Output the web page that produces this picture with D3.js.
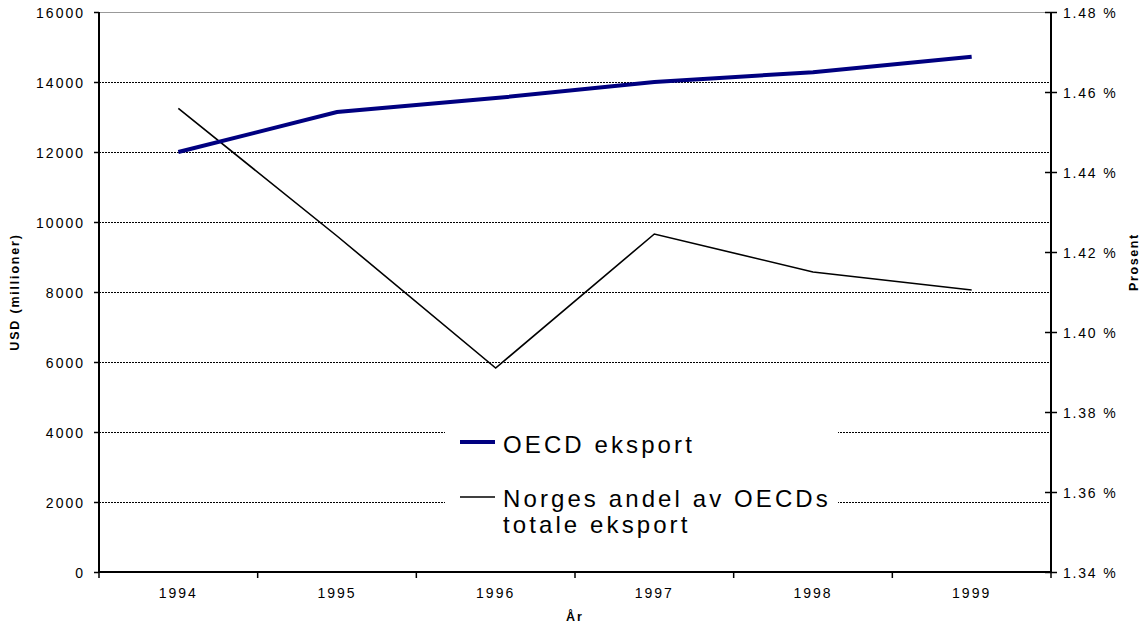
<!DOCTYPE html>
<html>
<head>
<meta charset="utf-8">
<script src="https://cdn.jsdelivr.net/npm/d3@7"></script>
<style>
  html, body { margin: 0; padding: 0; background: #fff; }
  svg { display: block; font-family: "Liberation Sans", Arial, sans-serif; }
</style>
</head>
<body>
<svg id="chart" width="1143" height="627"></svg>
<script>
const years = ["1994", "1995", "1996", "1997", "1998", "1999"];
const oecdExport = [12000, 13140, 13540, 14000, 14280, 14720];
const norwayShare = [1.4559, 1.4240, 1.3910, 1.4245, 1.4150, 1.4105];
const leftTicks = [0, 2000, 4000, 6000, 8000, 10000, 12000, 14000, 16000];
const rightTicks = [1.34, 1.36, 1.38, 1.40, 1.42, 1.44, 1.46, 1.48];
const seriesNames = ["OECD eksport", "Norges andel av OECDs", "totale eksport"];

const svg = d3.select("#chart");
const L = 99, R = 1051, T = 12, B = 572;

const x = d3.scaleBand().domain(years).range([L, R]).padding(0);
const yL = d3.scaleLinear().domain([0, 16000]).range([B, T]);
const yR = d3.scaleLinear().domain([1.34, 1.48]).range([B, T]);
const cx = d => x(d) + x.bandwidth() / 2;

// gridlines
svg.append("g").attr("shape-rendering", "crispEdges")
  .selectAll("line").data(leftTicks.filter(v => v > 0)).join("line")
  .attr("x1", L).attr("x2", R)
  .attr("y1", d => yL(d)).attr("y2", d => yL(d))
  .attr("stroke", d => d === 16000 ? "#999" : "#000")
  .attr("stroke-width", 1)
  .attr("stroke-dasharray", d => d === 16000 ? null : "2,1");

// series lines
const lineL = d3.line().x((d, i) => cx(years[i])).y(d => yL(d));
const lineR = d3.line().x((d, i) => cx(years[i])).y(d => yR(d));

svg.append("path").datum(norwayShare).attr("d", lineR)
  .attr("fill", "none").attr("stroke", "#000").attr("stroke-width", 1.6);
svg.append("path").datum(oecdExport).attr("d", lineL)
  .attr("fill", "none").attr("stroke", "#000080").attr("stroke-width", 4);

// left axis
const axL = svg.append("g").attr("transform", `translate(${L},0)`)
  .call(d3.axisLeft(yL).tickValues(leftTicks).tickSize(5).tickPadding(9).tickFormat(d3.format("d")));
axL.select(".domain").attr("stroke-width", 2).attr("d", `M0,${T}V${B}`);
axL.selectAll(".tick line").attr("stroke-width", 1.5);
axL.selectAll("text").attr("font-size", 14).attr("letter-spacing", 2).attr("fill", "#000")
  .attr("font-family", "Liberation Sans, Arial, sans-serif").attr("dy", "0.36em");

// right axis
const axR = svg.append("g").attr("transform", `translate(${R},0)`)
  .call(d3.axisRight(yR).tickValues(rightTicks).tickSize(6).tickPadding(6)
    .tickFormat(d => d3.format(".2f")(d) + " %"));
axR.select(".domain").attr("stroke-width", 2).attr("d", `M0,${T}V${B}`);
axR.selectAll(".tick line").attr("x1", -6).attr("x2", 6).attr("stroke-width", 1.5);
axR.selectAll("text").attr("font-size", 14).attr("letter-spacing", 1.8).attr("fill", "#000")
  .attr("font-family", "Liberation Sans, Arial, sans-serif").attr("dy", "0.4em");

// bottom axis
const axB = svg.append("g").attr("transform", `translate(0,${B})`)
  .call(d3.axisBottom(x).tickSize(0).tickPadding(16));
axB.select(".domain").attr("stroke-width", 2).attr("d", `M${L},0H${R}`);
axB.selectAll("text").attr("font-size", 14).attr("letter-spacing", 2).attr("fill", "#000")
  .attr("font-family", "Liberation Sans, Arial, sans-serif");
const bounds = years.map(d => x(d)).concat([x.range()[1]]);
axB.append("g").selectAll("line").data(bounds).join("line")
  .attr("x1", d => d).attr("x2", d => d).attr("y1", 0).attr("y2", 6)
  .attr("stroke", "#000").attr("stroke-width", 1.5);

// axis titles
svg.append("text").attr("transform", `translate(19,${(T + B) / 2}) rotate(-90)`)
  .attr("text-anchor", "middle").attr("font-size", 12.5).attr("font-weight", "bold")
  .attr("letter-spacing", 1.8).text("USD (millioner)");
svg.append("text").attr("transform", `translate(1138,${262}) rotate(-90)`)
  .attr("text-anchor", "middle").attr("font-size", 12.5).attr("font-weight", "bold")
  .attr("letter-spacing", 1.6).text("Prosent");
svg.append("text").attr("x", 575).attr("y", 621)
  .attr("text-anchor", "middle").attr("font-size", 12.5).attr("font-weight", "bold")
  .attr("letter-spacing", 2).text("År");

// legend
const lg = svg.append("g");
lg.append("rect").attr("x", 445).attr("y", 400).attr("width", 393).attr("height", 142).attr("fill", "#fff");
lg.append("line").attr("x1", 460).attr("x2", 495).attr("y1", 442).attr("y2", 442)
  .attr("stroke", "#000080").attr("stroke-width", 4);
lg.append("line").attr("x1", 460).attr("x2", 495).attr("y1", 497).attr("y2", 497)
  .attr("stroke", "#000").attr("stroke-width", 1.6);
const lt = (t, y) => lg.append("text").attr("x", 503).attr("y", y)
  .attr("font-size", 24).attr("letter-spacing", 3.1).attr("fill", "#000").text(t);
lt(seriesNames[0], 453);
lt(seriesNames[1], 507);
lt(seriesNames[2], 533);
</script>
</body>
</html>
